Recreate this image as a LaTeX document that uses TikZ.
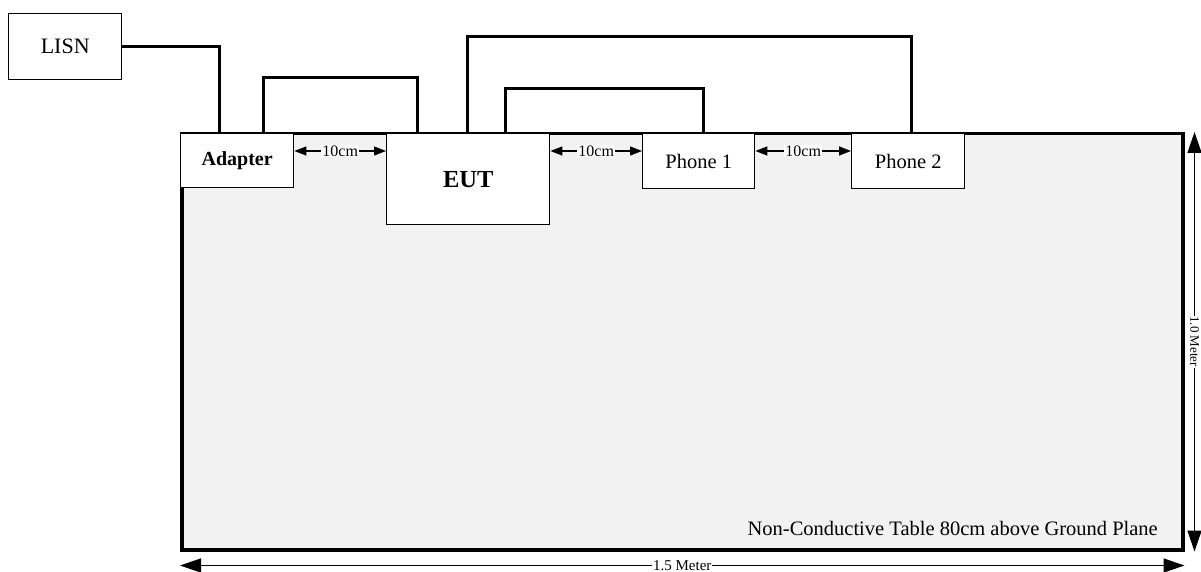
\documentclass[tikz,border=0pt]{standalone}
\usepackage{fontspec}
\setmainfont{Liberation Serif}
\usetikzlibrary{arrows.meta}
\definecolor{tablegray}{HTML}{F2F2F2}
\newcommand{\fs}[1]{\fontsize{#1}{#1}\selectfont}

\begin{document}
\begin{tikzpicture}[x=1pt,y=-1pt,
  box/.style={draw=black, line width=1.4pt, fill=white, inner sep=0pt, anchor=north west},
  wire/.style={black, line width=3pt},
  gap/.style={black, line width=1.3pt, {Triangle[length=12pt,width=9pt]}-{Triangle[length=12pt,width=9pt]}},
  dim/.style={black, line width=1.5pt, {Triangle[length=21pt,width=14pt]}-{Triangle[length=21pt,width=14pt]}}]
\useasboundingbox (0,0) rectangle (1201,572);
\node[draw=black, line width=3.5pt, fill=tablegray, anchor=north west, minimum width=1001pt, minimum height=416pt, inner sep=0pt] (table) at (180,132) {};
\node[box, minimum width=113pt, minimum height=66pt] (lisn) at (8,13) {\fs{22}LISN};
\node[box, minimum width=113pt, minimum height=54pt] (adapter) at (180,133) {\fs{20}\bfseries Adapter};
\node[box, minimum width=163pt, minimum height=91pt] (eut) at (386,133) {\fs{24.5}\bfseries EUT};
\node[box, minimum width=112pt, minimum height=55pt] (phoneone) at (642,133) {\fs{20.5}Phone 1};
\node[box, minimum width=113pt, minimum height=55pt] (phonetwo) at (851,133) {\fs{20.5}Phone 2};
% cables
\draw[wire] (lisn.east) -| ([xshift=39pt]adapter.north west);
\draw[wire] ([xshift=83pt]adapter.north west) -- ++(0,-55) -| ([xshift=31pt]eut.north west);
\draw[wire] ([xshift=81pt]eut.north west) -- ++(0,-96) -| ([xshift=60pt]phonetwo.north west);
\draw[wire] ([xshift=119pt]eut.north west) -- ++(0,-44) -| ([xshift=61pt]phoneone.north west);
% spacing
\draw[gap] ([yshift=-18pt]adapter.north east) -- ([yshift=-18pt]eut.north west) node[midway, fill=white, inner sep=1pt]{\fs{16}10cm};
\draw[gap] ([yshift=-18pt]eut.north east) -- ([yshift=-18pt]phoneone.north west) node[midway, fill=white, inner sep=1pt]{\fs{16}10cm};
\draw[gap] ([yshift=-18pt]phoneone.north east) -- ([yshift=-18pt]phonetwo.north west) node[midway, fill=white, inner sep=1pt]{\fs{16}10cm};
\node[anchor=base east, inner sep=0pt] (tablelabel) at (1158,535) {\fs{20.5}Non-Conductive Table 80cm above Ground Plane};
% dimensions
\draw[dim] ([yshift=-14pt]table.south west) -- ([yshift=-14pt]table.south east) node[midway, fill=white, inner sep=1pt]{\fs{15}1.5 Meter};
\draw[dim] ([xshift=10pt]table.north east) -- ([xshift=10pt]table.south east) node[midway, fill=white, inner sep=0.5pt, rotate=-90]{\fs{13}1.0 Meter};
\end{tikzpicture}
\end{document}
